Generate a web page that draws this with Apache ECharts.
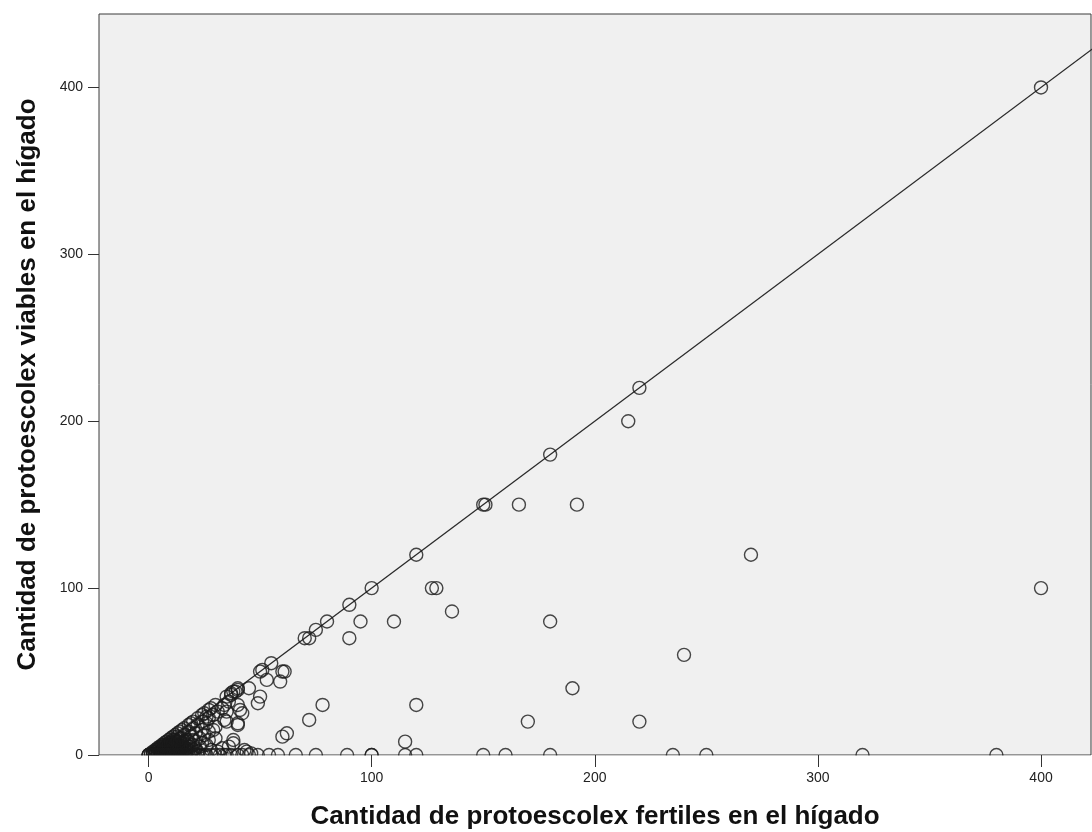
<!DOCTYPE html>
<html>
<head>
<meta charset="utf-8">
<script src="https://cdn.jsdelivr.net/npm/echarts@6/dist/echarts.min.js"></script>
<style>
html,body{margin:0;padding:0;background:#fff;}
#chart{width:1092px;height:832px;}
</style>
</head>
<body>
<div id="chart"></div>
<script>
// ---- Data ----
var xTitle = 'Cantidad de protoescolex fertiles en el hígado';
var yTitle = 'Cantidad de protoescolex viables en el hígado';
var xTicks = [0, 100, 200, 300, 400];
var yTicks = [0, 100, 200, 300, 400];

// points lying on the identity line (fertiles, viables)
var onLinePoints = [
  [0,0],[0,0],[0,0],[1,1],[2,2],[3,3],[4,4],[5,5],[6,6],[7,7],[8,8],[9,9],[10,10],
  [11,11],[12,12],[13,13],[14,14],[15,15],[16,16],[18,18],[19,19],[20,20],[22,22],
  [24,24],[25,25],[27,27],[28,28],[30,30],[35,35],[37,37],[38,38],[40,40],[50,50],
  [51,51],[55,55],[70,70],[72,70],[75,75],[80,80],[90,90],[100,100],[120,120],
  [150,150],[151,150],[180,180],[220,220],[400,400]
];
// points below the line
var belowPoints = [
  [215,200],[166,150],[192,150],[270,120],[400,100],[127,100],[129,100],[136,86],
  [110,80],[180,80],[95,80],[90,70],[240,60],[190,40],[120,30],[78,30],[170,20],
  [220,20],[72,21],[115,8],[62,13],[60,11],[60,50],[61,50],[53,45],[59,44],[50,35],
  [49,31],[45,40],[41,27],[40,30],[35,26],[34,21],[35,20],[40,18],[40,19],[27,14],
  [29,15],[20,9],[38,9],[38,7],[36,5],[26,23],[24,20],[30,10],[33,4],[25,12],[16,8],
  [18,5],[14,6],[12,3],[10,4],[8,2],[6,3],[22,2],[28,3],[31,2],[2,1],[3,1],[3,2],
  [4,2],[4,3],[5,2],[5,4],[6,4],[6,5],[7,3],[7,6],[8,5],[9,4],[9,7],[10,6],[11,5],
  [11,9],[12,8],[13,6],[13,11],[14,10],[15,7],[16,12],[17,9],[18,14],[19,11],
  [20,16],[21,13],[22,18],[23,10],[24,15],[26,19],[27,22],[29,24],[30,17],[31,26],
  [33,28],[34,30],[36,32],[37,36],[39,38],[40,39],[42,25],[43,3],[44,2],[46,1],
  [2,0.5],[3,0.5],[4,1],[5,1],[6,1],[6,2],[7,1],[7,2],[7,4],[8,1],[8,3],[8,4],[8,6],
  [9,1],[9,2],[9,3],[9,5],[9,6],[10,1],[10,2],[10,3],[10,5],[10,7],[10,8],[11,2],
  [11,3],[11,4],[11,6],[11,7],[12,1],[12,2],[12,4],[12,5],[12,6],[12,9],[13,2],
  [13,3],[13,4],[13,8],[14,2],[14,3],[14,4],[14,8],[15,2],[15,4],[15,5],[15,10],
  [16,3],[16,5],[17,2],[17,4],[17,6],[18,3],[18,8],[19,2],[19,5],[20,3],[20,6],
  [21,4],[21,8],[23,5],[24,7],[26,6],[27,9]
];
// fertiles counts of points with zero viables
var zeroViableX = [
  1,2,3,4,5,6,7,8,9,10,11,12,13,14,15,16,17,18,19,20,21,22,24,25,26,28,30,32,34,35,
  37,40,42,45,49,54,58,66,75,89,100,100,115,120,150,160,180,235,250,320,380
];
var refLineEnds = [-25, 430];
var xRange = [-22.2, 422.4];
var yRange = [0, 444];

// ---- Chart ----
var pts = onLinePoints.concat(belowPoints).concat(zeroViableX.map(function (v) { return [v, 0]; }));
var refLine = refLineEnds.map(function (v) { return [v, v]; });

var gridLeft = 99, gridTop = 14, gridRight = 1, gridBottom = 77;
var W = 1092, H = 832;

var chart = echarts.init(document.getElementById('chart'), null, {renderer: 'canvas'});
var fontFam = '"Liberation Sans", Arial, sans-serif';
chart.setOption({
  animation: false,
  backgroundColor: '#ffffff',
  grid: {
    left: gridLeft, top: gridTop, right: gridRight, bottom: gridBottom,
    containLabel: false, outerBoundsMode: 'none',
    show: true, backgroundColor: '#f0f0f0', borderColor: '#3a3a3a', borderWidth: 1
  },
  graphic: [{
    type: 'rect', z: 100, silent: true,
    shape: {x: 0, y: H - gridBottom + 0.5, width: W, height: gridBottom},
    style: {fill: '#ffffff'}
  }],
  xAxis: {
    type: 'value', min: xRange[0], max: xRange[1], z: 200,
    splitLine: {show: false},
    axisLine: {show: false, onZero: false},
    axisTick: {show: true, length: 12, inside: false, customValues: xTicks, lineStyle: {color: '#333', width: 1}},
    axisLabel: {customValues: xTicks, margin: 16, fontSize: 14, color: '#222', fontFamily: fontFam},
    name: xTitle, nameLocation: 'middle', nameGap: 49,
    nameTextStyle: {fontSize: 26, fontWeight: 'bold', color: '#111', fontFamily: fontFam}
  },
  yAxis: {
    type: 'value', min: yRange[0], max: yRange[1], z: 200,
    splitLine: {show: false},
    axisLine: {show: false, onZero: false},
    axisTick: {show: true, length: 11, inside: false, customValues: yTicks, lineStyle: {color: '#333', width: 1}},
    axisLabel: {customValues: yTicks, margin: 16, fontSize: 14, color: '#222', fontFamily: fontFam},
    name: yTitle, nameLocation: 'middle', nameGap: 58, nameRotate: 90,
    nameTextStyle: {fontSize: 26, fontWeight: 'bold', color: '#111', fontFamily: fontFam}
  },
  series: [
    {
      type: 'line', data: refLine, symbol: 'none', clip: true, silent: true,
      lineStyle: {color: '#2b2b2b', width: 1.3}, z: 2
    },
    {
      type: 'scatter', data: pts, symbol: 'circle', symbolSize: 13, clip: true,
      itemStyle: {color: 'rgba(0,0,0,0)', borderColor: '#1a1a1a', borderWidth: 1.4},
      z: 3
    }
  ]
});
</script>
</body>
</html>
